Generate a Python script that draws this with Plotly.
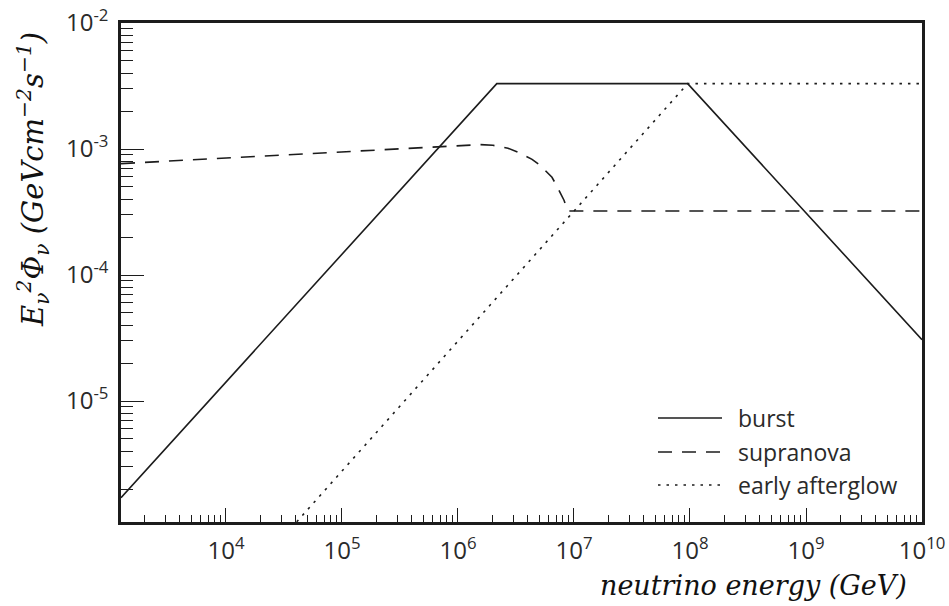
import plotly.graph_objects as go

# Neutrino flux models, E^2 * Phi (GeV cm^-2 s^-1) vs neutrino energy (GeV)
burst_E = [1245, 2.16e6, 9.55e7, 1e10]
burst_F = [1.71e-6, 3.30e-3, 3.30e-3, 3.07e-5]

supranova_E = [1245, 1e4, 1e5, 3.16e5, 1.27e6, 1.55e6, 2.0e6, 2.7e6, 3.29e6,
               4.35e6, 5.09e6, 6.46e6, 7.13e6, 8.2e6, 8.7e6, 8.87e6, 1e10]
supranova_F = [7.66e-4, 8.5e-4, 9.5e-4, 1.007e-3, 1.08e-3, 1.084e-3, 1.07e-3, 1.014e-3, 9.42e-4,
               8.28e-4, 7.43e-4, 5.97e-4, 5.06e-4, 3.92e-4, 3.38e-4, 3.22e-4, 3.22e-4]

afterglow_E = [4.07e4, 9.55e7, 1e10]
afterglow_F = [1.1e-6, 3.30e-3, 3.30e-3]

x_ticks = [1e4, 1e5, 1e6, 1e7, 1e8, 1e9, 1e10]
x_ticktext = ["10<sup>4</sup>", "10<sup>5</sup>", "10<sup>6</sup>", "10<sup>7</sup>",
              "10<sup>8</sup>", "10<sup>9</sup>", "10<sup>10</sup>"]
y_ticks = [1e-5, 1e-4, 1e-3, 1e-2]
y_ticktext = ["10<sup>-5</sup>", "10<sup>-4</sup>", "10<sup>-3</sup>", "10<sup>-2</sup>"]

legend_names = ["burst", "supranova", "early afterglow"]

INK = "#1c1c1c"
W, H = 949, 606
ML, MR, MT, MB = 121, 27, 23, 84

x_minor = [m * 10 ** d for d in range(3, 10) for m in range(2, 10)]
y_minor = [m * 10.0 ** d for d in range(-6, -2) for m in range(2, 10)]

series = [
    (burst_E, burst_F, "solid", legend_names[0]),
    (supranova_E, supranova_F, "14px,10px", legend_names[1]),
    (afterglow_E, afterglow_F, "2.5px,6px", legend_names[2]),
]

fig = go.Figure()
for xs, ys, dash, name in series:
    fig.add_trace(go.Scatter(x=xs, y=ys, mode="lines", name=name,
                             line=dict(color=INK, width=1.6, dash=dash),
                             showlegend=False, cliponaxis=True))

tick_font = dict(family="Open Sans, Lato, sans-serif", size=24, color="#2a2a2a")

fig.update_xaxes(
    type="log", range=[3.095, 10], tickmode="array", tickvals=x_ticks, ticktext=x_ticktext,
    ticks="inside", ticklen=14, tickwidth=1.3, tickcolor=INK,
    minor=dict(tickmode="array", tickvals=x_minor, ticks="inside", ticklen=7,
               tickwidth=1.3, tickcolor=INK, showgrid=False),
    showline=True, linecolor=INK, linewidth=2.6, mirror=True, automargin=False,
    showgrid=False, zeroline=False, tickfont=tick_font, ticklabelstandoff=5,
)
fig.update_yaxes(
    type="log", range=[-5.96, -2], tickmode="array", tickvals=y_ticks, ticktext=y_ticktext,
    ticks="inside", ticklen=23, tickwidth=1.3, tickcolor=INK,
    minor=dict(tickmode="array", tickvals=y_minor, ticks="inside", ticklen=12,
               tickwidth=1.3, tickcolor=INK, showgrid=False),
    showline=True, linecolor=INK, linewidth=2.6, mirror=True, automargin=False,
    showgrid=False, zeroline=False, tickfont=tick_font, ticklabelstandoff=5,
)

# Hand-placed legend in the lower right of the plot area
pw, ph = W - ML - MR, H - MT - MB


def px_to_paper(px, py):
    return (px - ML) / pw, 1 - (py - MT) / ph


legend_rows = [418, 452, 485]
shapes = []
annotations = []
for (xs, ys, dash, name), row in zip(series, legend_rows):
    x0, y0 = px_to_paper(658, row)
    x1, _ = px_to_paper(722, row)
    shapes.append(dict(type="line", xref="paper", yref="paper", x0=x0, x1=x1, y0=y0, y1=y0,
                       line=dict(color=INK, width=1.6, dash=dash)))
    tx, ty = px_to_paper(736, row)
    annotations.append(dict(xref="paper", yref="paper", x=tx, y=ty, text=name,
                            showarrow=False, xanchor="left", yanchor="middle",
                            font=dict(family="Open Sans, Lato, sans-serif", size=23, color="#2a2a2a")))

xt, yt = px_to_paper(753, 585)
annotations.append(dict(xref="paper", yref="paper", x=xt, y=yt,
                        text="<i>neutrino energy (GeV)</i>", showarrow=False,
                        xanchor="center", yanchor="middle",
                        font=dict(family="DejaVu Serif, serif", size=27, color="#111111")))
yx, yy = px_to_paper(33, 180)
annotations.append(dict(xref="paper", yref="paper", x=yx, y=yy, textangle=-90,
                        text="<i>E<sub>ν</sub><sup>2</sup>Φ<sub>ν</sub> (GeVcm<sup>−2</sup>s<sup>−1</sup>)</i>",
                        showarrow=False, xanchor="center", yanchor="middle",
                        font=dict(family="DejaVu Serif, serif", size=29, color="#111111")))

fig.update_layout(
    width=W, height=H, margin=dict(l=ML, r=MR, t=MT, b=MB, autoexpand=False),
    paper_bgcolor="white", plot_bgcolor="white",
    shapes=shapes, annotations=annotations, showlegend=False,
)

fig.write_html("out.html")
